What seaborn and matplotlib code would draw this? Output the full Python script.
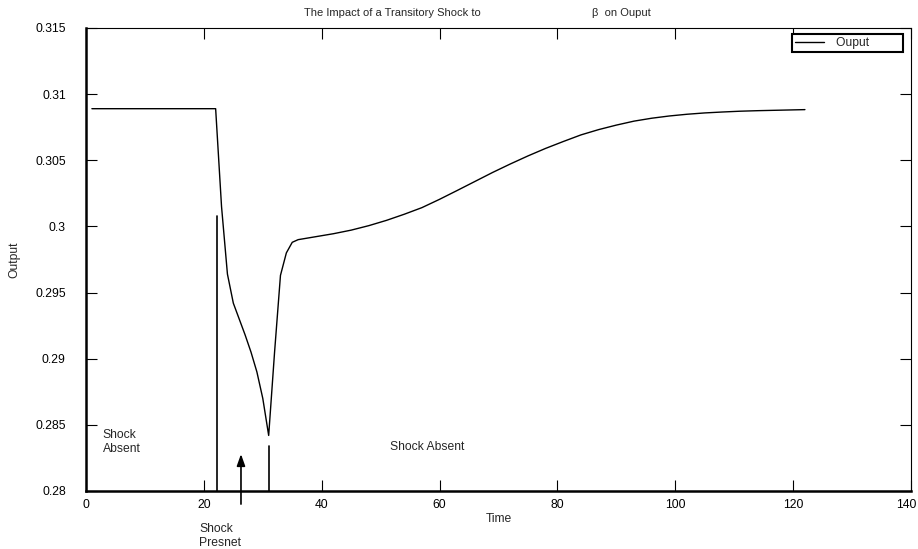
import pandas as pd
import seaborn as sns
import matplotlib.pyplot as plt
from matplotlib.transforms import ScaledTranslation

# values
time = [1, 22, 23, 24, 25, 26, 27, 28, 29, 30, 31, 32, 33, 34, 35, 36, 38, 40,
        42, 45, 48, 51, 54, 57, 60, 63, 66, 69, 72, 75, 78, 81, 84, 87, 90,
        93, 96, 99, 102, 105, 108, 111, 114, 118, 122]
output = [0.3089, 0.3089, 0.3015, 0.2964, 0.2942, 0.2930, 0.2918, 0.2905,
          0.2890, 0.2870, 0.2842, 0.2905, 0.2963, 0.2980, 0.2988, 0.2990,
          0.29915, 0.2993, 0.29945, 0.29972, 0.30006, 0.30046, 0.30092,
          0.30142, 0.30205, 0.30272, 0.3034, 0.30408, 0.30472, 0.30533,
          0.3059, 0.30642, 0.30692, 0.30732, 0.30766, 0.30796, 0.30818,
          0.30835, 0.30848, 0.30858, 0.30865, 0.30871, 0.30875, 0.30879,
          0.30883]

# shock markers
shock_start, shock_start_top = 22.2, 0.3008
shock_end, shock_end_top = 31.1, 0.2834
arrow_t, arrow_from, arrow_to = 26.3, 0.2788, 0.2830

xticks = [0, 20, 40, 60, 80, 100, 120, 140]
yticks = [0.28, 0.285, 0.29, 0.295, 0.3, 0.305, 0.31, 0.315]
ytick_labels = ["0.28", "0.285", "0.29", "0.295", "0.3", "0.305", "0.31", "0.315"]

df = pd.DataFrame({"Time": time, "Output": output})

sns.set_style("ticks")
plt.rcParams["font.family"] = ["Liberation Sans", "DejaVu Sans"]
fs = 8.7

fig = plt.figure(figsize=(9.18, 5.49), dpi=100)
ax = fig.add_axes([86 / 918, 1 - 491 / 549, (911 - 86) / 918, (491 - 28) / 549])

sns.lineplot(data=df, x="Time", y="Output", ax=ax, color="black", lw=1.0,
             label="Ouput         ")

ax.plot([shock_start, shock_start], [0.28, shock_start_top], color="black", lw=1.2)
ax.plot([shock_end, shock_end], [0.28, shock_end_top], color="black", lw=1.2)
ax.annotate("", xy=(arrow_t, arrow_to), xytext=(arrow_t, arrow_from),
            annotation_clip=False,
            arrowprops=dict(arrowstyle="-|>,head_length=0.7,head_width=0.25",
                            color="black", lw=1.2))

ax.text(2.8, 0.2837, "Shock\nAbsent", fontsize=fs, va="center", ha="left",
        linespacing=1.15)
ax.text(51.6, 0.28332, "Shock Absent", fontsize=fs, va="center", ha="left")
ax.text(19.2, 0.2766, "Shock\nPresnet", fontsize=fs, va="center", ha="left",
        linespacing=1.15, clip_on=False)

ax.set_xlim(0, 140)
ax.set_ylim(0.28, 0.315)
ax.set_xticks(xticks)
ax.set_yticks(yticks)
ax.set_yticklabels(ytick_labels)
ax.tick_params(direction="in", length=8, width=0.8, top=True, right=True,
               labelsize=fs, colors="black")
ax.tick_params(axis="y", pad=14.5)
ax.tick_params(axis="x", pad=6)
for side in ["left", "bottom"]:
    ax.spines[side].set_linewidth(1.8)
for side in ["top", "right"]:
    ax.spines[side].set_linewidth(0.8)
for sp in ax.spines.values():
    sp.set_color("black")

# keep the last x label inside the picture
last = ax.get_xticklabels()[-1]
last.set_transform(last.get_transform() + ScaledTranslation(-5 / 100, 0, fig.dpi_scale_trans))

ax.set_xlabel("Time", fontsize=fs, labelpad=1)
ax.set_ylabel("Output", fontsize=fs)
ax.yaxis.set_label_coords(-0.079, 0.5)

fig.text(304 / 918, 1 - 13 / 549, "The Impact of a Transitory Shock to",
         fontsize=8, va="center", ha="left")
fig.text(592 / 918, 1 - 13 / 549, "β  on Ouput", fontsize=8, va="center", ha="left")

leg = ax.legend(loc="upper right", bbox_to_anchor=(1 - 8 / 825, 1 - 6 / 463),
                borderaxespad=0, fontsize=fs, frameon=True, fancybox=False,
                handlelength=2.4, handletextpad=1.0, borderpad=0.25)
leg.get_frame().set_edgecolor("black")
leg.get_frame().set_linewidth(1.5)
leg.get_frame().set_alpha(1)

fig.savefig("out.png", dpi=100)
